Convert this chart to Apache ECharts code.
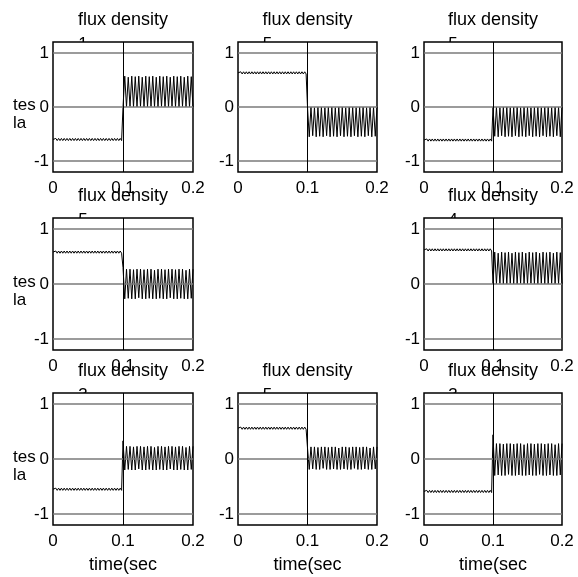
<!DOCTYPE html>
<html>
<head>
<meta charset="utf-8">
<script src="https://cdn.jsdelivr.net/npm/echarts@6/dist/echarts.min.js"></script>
<style>
html, body { margin: 0; padding: 0; background: #fff; }
#main { width: 578px; height: 577px; }
</style>
</head>
<body>
<div id="main"></div>
<script>
// time of each ripple extreme before the switch (sec)
var preT = [0,0.002,0.004,0.006,0.008,0.01,0.012,0.014,0.016,0.018,
  0.02,0.022,0.024,0.026,0.028,0.03,0.032,0.034,0.036,0.038,
  0.04,0.042,0.044,0.046,0.048,0.05,0.052,0.054,0.056,0.058,
  0.06,0.062,0.064,0.066,0.068,0.07,0.072,0.074,0.076,0.078,
  0.08,0.082,0.084,0.086,0.088,0.09,0.092,0.094,0.096,0.098,
  0.1]
// time of each peak / trough after the switch (sec)
var postT = [0.1,0.1025,0.105,0.1075,0.11,0.1125,0.115,0.1175,0.12,0.1225,
  0.125,0.1275,0.13,0.1325,0.135,0.1375,0.14,0.1425,0.145,0.1475,
  0.15,0.1525,0.155,0.1575,0.16,0.1625,0.165,0.1675,0.17,0.1725,
  0.175,0.1775,0.18,0.1825,0.185,0.1875,0.19,0.1925,0.195,0.1975,
  0.2]

// flux density (tesla), plots 1..8
var pre1 = [-0.6,-0.62,-0.58,-0.62,-0.58,-0.62,-0.58,-0.62,-0.58,-0.62,
  -0.58,-0.62,-0.58,-0.62,-0.58,-0.62,-0.58,-0.62,-0.58,-0.62,
  -0.58,-0.62,-0.58,-0.62,-0.58,-0.62,-0.58,-0.62,-0.58,-0.62,
  -0.58,-0.62,-0.58,-0.62,-0.58,-0.62,-0.58,-0.62,-0.58,-0.62,
  -0.58,-0.62,-0.58,-0.62,-0.58,-0.62,-0.58,-0.62,-0.58,-0.62,
  -0.6]
var post1 = [0.0,
  0.57,0.0,0.55,0.01,0.57,0.0,0.56,0.0,0.57,0.01,
  0.55,0.0,0.57,0.0,0.56,0.01,0.57,0.0,0.55,0.0,
  0.57,0.01,0.56,0.0,0.57,0.0,0.55,0.01,0.57,0.0,
  0.56,0.0,0.57,0.01,0.55,0.0,0.57,0.0,0.56,0.0]

var pre2 = [0.63,0.61,0.65,0.61,0.65,0.61,0.65,0.61,0.65,0.61,
  0.65,0.61,0.65,0.61,0.65,0.61,0.65,0.61,0.65,0.61,
  0.65,0.61,0.65,0.61,0.65,0.61,0.65,0.61,0.65,0.61,
  0.65,0.61,0.65,0.61,0.65,0.61,0.65,0.61,0.65,0.61,
  0.65,0.61,0.65,0.61,0.65,0.61,0.65,0.61,0.65,0.61,
  0.63]
var post2 = [0.0,
  -0.55,0.0,-0.53,-0.01,-0.55,0.0,-0.54,0.0,-0.55,-0.01,
  -0.53,0.0,-0.55,0.0,-0.54,-0.01,-0.55,0.0,-0.53,0.0,
  -0.55,-0.01,-0.54,0.0,-0.55,0.0,-0.53,-0.01,-0.55,0.0,
  -0.54,0.0,-0.55,-0.01,-0.53,0.0,-0.55,0.0,-0.54,0.0]

var pre3 = [-0.61,-0.63,-0.59,-0.63,-0.59,-0.63,-0.59,-0.63,-0.59,-0.63,
  -0.59,-0.63,-0.59,-0.63,-0.59,-0.63,-0.59,-0.63,-0.59,-0.63,
  -0.59,-0.63,-0.59,-0.63,-0.59,-0.63,-0.59,-0.63,-0.59,-0.63,
  -0.59,-0.63,-0.59,-0.63,-0.59,-0.63,-0.59,-0.63,-0.59,-0.63,
  -0.59,-0.63,-0.59,-0.63,-0.59,-0.63,-0.59,-0.63,-0.59,-0.63,
  -0.61]
var post3 = [0.0,
  -0.54,0.0,-0.55,-0.01,-0.53,0.0,-0.55,0.0,-0.54,-0.01,
  -0.55,0.0,-0.53,0.0,-0.55,-0.01,-0.54,0.0,-0.55,0.0,
  -0.53,-0.01,-0.55,0.0,-0.54,0.0,-0.55,-0.01,-0.53,0.0,
  -0.55,0.0,-0.54,-0.01,-0.55,0.0,-0.53,0.0,-0.55,0.0]

var pre4 = [0.58,0.56,0.6,0.56,0.6,0.56,0.6,0.56,0.6,0.56,
  0.6,0.56,0.6,0.56,0.6,0.56,0.6,0.56,0.6,0.56,
  0.6,0.56,0.6,0.56,0.6,0.56,0.6,0.56,0.6,0.56,
  0.6,0.56,0.6,0.56,0.6,0.56,0.6,0.56,0.6,0.56,
  0.6,0.56,0.6,0.56,0.6,0.56,0.6,0.56,0.6,0.56,
  0.58]
var post4 = [0.3,
  -0.27,0.27,-0.26,0.27,-0.27,0.26,-0.27,0.27,-0.25,0.27,
  -0.27,0.26,-0.27,0.27,-0.26,0.27,-0.27,0.25,-0.27,0.27,
  -0.26,0.27,-0.27,0.26,-0.27,0.27,-0.25,0.27,-0.27,0.26,
  -0.27,0.27,-0.26,0.27,-0.27,0.25,-0.27,0.27,-0.26,0.27]

var pre5 = [0.62,0.6,0.64,0.6,0.64,0.6,0.64,0.6,0.64,0.6,
  0.64,0.6,0.64,0.6,0.64,0.6,0.64,0.6,0.64,0.6,
  0.64,0.6,0.64,0.6,0.64,0.6,0.64,0.6,0.64,0.6,
  0.64,0.6,0.64,0.6,0.64,0.6,0.64,0.6,0.64,0.6,
  0.64,0.6,0.64,0.6,0.64,0.6,0.64,0.6,0.64,0.6,
  0.62]
var post5 = [0.0,
  0.58,0.0,0.56,0.01,0.58,0.0,0.57,0.0,0.58,0.01,
  0.56,0.0,0.58,0.0,0.57,0.01,0.58,0.0,0.56,0.0,
  0.58,0.01,0.57,0.0,0.58,0.0,0.56,0.01,0.58,0.0,
  0.57,0.0,0.58,0.01,0.56,0.0,0.58,0.0,0.57,0.0]

var pre6 = [-0.55,-0.57,-0.53,-0.57,-0.53,-0.57,-0.53,-0.57,-0.53,-0.57,
  -0.53,-0.57,-0.53,-0.57,-0.53,-0.57,-0.53,-0.57,-0.53,-0.57,
  -0.53,-0.57,-0.53,-0.57,-0.53,-0.57,-0.53,-0.57,-0.53,-0.57,
  -0.53,-0.57,-0.53,-0.57,-0.53,-0.57,-0.53,-0.57,-0.53,-0.57,
  -0.53,-0.57,-0.53,-0.57,-0.53,-0.57,-0.53,-0.57,-0.53,-0.57,
  -0.55]
var post6 = [0.33,
  -0.2,0.23,-0.19,0.23,-0.2,0.22,-0.2,0.23,-0.18,0.23,
  -0.2,0.22,-0.2,0.23,-0.19,0.23,-0.2,0.21,-0.2,0.23,
  -0.19,0.23,-0.2,0.22,-0.2,0.23,-0.18,0.23,-0.2,0.22,
  -0.2,0.23,-0.19,0.23,-0.2,0.21,-0.2,0.23,-0.19,0.23]

var pre7 = [0.56,0.54,0.58,0.54,0.58,0.54,0.58,0.54,0.58,0.54,
  0.58,0.54,0.58,0.54,0.58,0.54,0.58,0.54,0.58,0.54,
  0.58,0.54,0.58,0.54,0.58,0.54,0.58,0.54,0.58,0.54,
  0.58,0.54,0.58,0.54,0.58,0.54,0.58,0.54,0.58,0.54,
  0.58,0.54,0.58,0.54,0.58,0.54,0.58,0.54,0.58,0.54,
  0.56]
var post7 = [0.2,
  -0.19,0.22,-0.18,0.22,-0.19,0.21,-0.19,0.22,-0.17,0.22,
  -0.19,0.21,-0.19,0.22,-0.18,0.22,-0.19,0.2,-0.19,0.22,
  -0.18,0.22,-0.19,0.21,-0.19,0.22,-0.17,0.22,-0.19,0.21,
  -0.19,0.22,-0.18,0.22,-0.19,0.2,-0.19,0.22,-0.18,0.22]

var pre8 = [-0.59,-0.61,-0.57,-0.61,-0.57,-0.61,-0.57,-0.61,-0.57,-0.61,
  -0.57,-0.61,-0.57,-0.61,-0.57,-0.61,-0.57,-0.61,-0.57,-0.61,
  -0.57,-0.61,-0.57,-0.61,-0.57,-0.61,-0.57,-0.61,-0.57,-0.61,
  -0.57,-0.61,-0.57,-0.61,-0.57,-0.61,-0.57,-0.61,-0.57,-0.61,
  -0.57,-0.61,-0.57,-0.61,-0.57,-0.61,-0.57,-0.61,-0.57,-0.61,
  -0.59]
var post8 = [0.44,
  -0.3,0.28,-0.29,0.28,-0.3,0.27,-0.3,0.28,-0.28,0.28,
  -0.3,0.27,-0.3,0.28,-0.29,0.28,-0.3,0.26,-0.3,0.28,
  -0.29,0.28,-0.3,0.27,-0.3,0.28,-0.28,0.28,-0.3,0.27,
  -0.3,0.28,-0.29,0.28,-0.3,0.26,-0.3,0.28,-0.29,0.28]

var preVals = [pre1, pre2, pre3, pre4, pre5, pre6, pre7, pre8]
var postVals = [post1, post2, post3, post4, post5, post6, post7, post8]
var plotNums = ['1', '5', '5', '5', '4', '3', '5', '3']
var yTicks = [-1, 0, 1]
var gridLevels = [1, 0, -1]
var switchTime = 0.1

// layout: which row/col each plot sits in (centre cell is empty)
var cellRow = [0, 0, 0, 1, 1, 2, 2, 2]
var cellCol = [0, 1, 2, 0, 2, 0, 1, 2]
var colLeft = [53, 238, 424]
var colWidth = [140, 139, 138]
var rowTop = [42, 218, 393]
var rowHeight = [130, 132, 132]

var FONT = '"Liberation Sans", Arial, sans-serif'
var chart = echarts.init(document.getElementById('main'))

var grids = [], xAxes = [], yAxes = [], series = [], titles = []
for (var i = 0; i < 8; i++) {
  var r = cellRow[i], c = cellCol[i]
  var cx = colLeft[c] + colWidth[c] / 2
  var y0 = rowTop[r] + rowHeight[r] / 2
  grids.push({
    left: colLeft[c], top: rowTop[r], width: colWidth[c], height: rowHeight[r],
    show: true, backgroundColor: '#fff', borderColor: '#000', borderWidth: 1.5,
    z: 2, outerBoundsMode: 'none', containLabel: false
  })
  xAxes.push({
    gridIndex: i, type: 'value', min: 0, max: 0.2, interval: 0.1,
    axisLine: {show: false}, axisTick: {show: false}, splitLine: {show: false},
    axisLabel: {margin: 8, fontSize: 17, color: '#000', fontFamily: FONT},
    name: r === 2 ? 'time(sec' : '', nameLocation: 'middle', nameGap: 31,
    nameTextStyle: {fontSize: 18, color: '#000', fontFamily: FONT}
  })
  yAxes.push({
    gridIndex: i, type: 'value', min: -1.2, max: 1.2,
    axisLine: {show: false}, axisTick: {show: false}, splitLine: {show: false},
    axisLabel: {customValues: yTicks, margin: 4, fontSize: 17, color: '#000', fontFamily: FONT}
  })
  var pts = []
  for (var k = 0; k < preT.length; k++) pts.push([preT[k], preVals[i][k]])
  for (var k = 0; k < postT.length; k++) pts.push([postT[k], postVals[i][k]])
  var ml = gridLevels.map(function (v) {
    return {yAxis: v, lineStyle: {color: '#7a7a7a', width: 1.5, type: 'solid'}}
  })
  ml.push({xAxis: switchTime, lineStyle: {color: '#000', width: 1, type: 'solid'}})
  series.push({
    type: 'line', xAxisIndex: i, yAxisIndex: i, data: pts,
    showSymbol: false, symbol: 'none',
    lineStyle: {color: '#000', width: 1},
    markLine: {silent: true, symbol: 'none', label: {show: false}, data: ml}
  })
  titles.push({
    text: 'flux density', left: cx, top: rowTop[r] - 31, textAlign: 'center', padding: 0, z: 10,
    textStyle: {fontSize: 18, fontWeight: 'normal', color: '#000', fontFamily: FONT}
  })
  // second title line, mostly hidden behind the plot box
  titles.push({
    text: plotNums[i], left: cx - 40, top: rowTop[r] - 6, textAlign: 'center', padding: 0, z: 0,
    textStyle: {fontSize: 17, fontWeight: 'normal', color: '#000', fontFamily: FONT}
  })
  if (c === 0) {
    titles.push({
      text: 'tes\nla', left: 13, top: y0 - 11, padding: 0, z: 10,
      textStyle: {fontSize: 17, fontWeight: 'normal', lineHeight: 18, color: '#000', fontFamily: FONT}
    })
  }
}

chart.setOption({
  animation: false,
  backgroundColor: '#fff',
  title: titles,
  grid: grids,
  xAxis: xAxes,
  yAxis: yAxes,
  series: series
})
</script>
</body>
</html>
